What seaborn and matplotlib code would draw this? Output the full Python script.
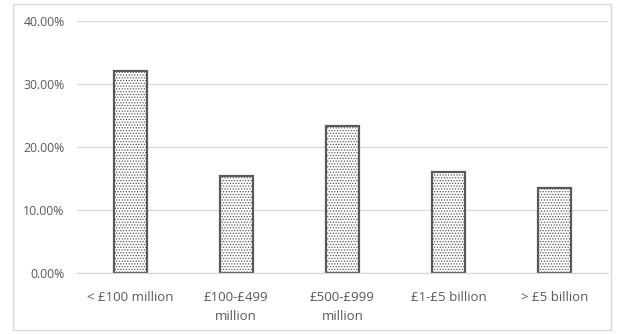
import matplotlib
matplotlib.use("Agg")
import matplotlib.pyplot as plt
import seaborn as sns
import pandas as pd
from matplotlib.patches import Rectangle
from matplotlib.ticker import FuncFormatter

categories = ["< £100 million", "£100-£499\nmillion", "£500-£999\nmillion", "£1-£5 billion", "> £5 billion"]
values = [0.321, 0.154, 0.234, 0.160, 0.135]

sns.set_theme(style="white")
plt.rcParams['font.family'] = ['Open Sans', 'DejaVu Sans']
plt.rcParams['hatch.color'] = '#ababab'
plt.rcParams['hatch.linewidth'] = 0.6

df = pd.DataFrame({"cat": categories, "val": values})
fig = plt.figure(figsize=(6.18, 3.34), dpi=100)
ax = fig.add_axes([77/618, 1-273/334, (608-77)/618, (273-21)/334])

sns.barplot(data=df, x="cat", y="val", ax=ax, color="white", edgecolor="#595959",
            linewidth=1.6, width=0.31, hatch="......")

ax.set_ylim(0, 0.4)
ax.set_xlim(-0.5, 4.5)
ax.set_yticks([0, 0.1, 0.2, 0.3, 0.4])
ax.yaxis.set_major_formatter(FuncFormatter(lambda v, p: f"{v*100:.2f}%"))
ax.grid(axis="y", color="#d9d9d9", linewidth=0.9)
ax.set_axisbelow(True)
for s in ["left", "right", "top"]:
    ax.spines[s].set_visible(False)
ax.spines["bottom"].set_color("#d9d9d9")
ax.spines["bottom"].set_linewidth(0.9)
ax.set_xlabel("")
ax.set_ylabel("")
ax.tick_params(axis="y", labelsize=8.8, colors="#595959", length=0, pad=9)
ax.tick_params(axis="x", labelsize=9.5, colors="#595959", length=0, pad=13)
for t in ax.get_xticklabels():
    t.set_linespacing(1.6)

fig.patches.append(Rectangle((13/618, 4/334), (611-13)/618, (330-4)/334,
                             transform=fig.transFigure, fill=False,
                             edgecolor="#d9d9d9", linewidth=1.0))
fig.savefig("out.png", dpi=100)
